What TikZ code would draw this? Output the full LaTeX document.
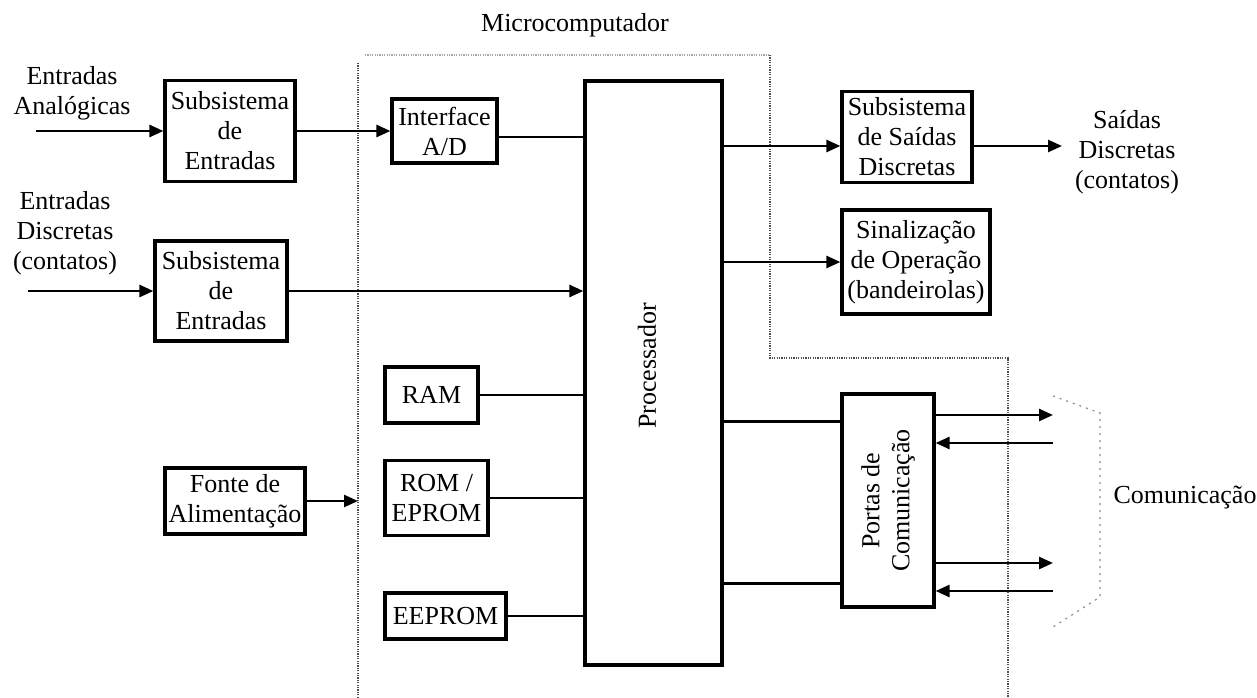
\documentclass[tikz,border=0pt]{standalone}
\usepackage{fontspec}
\setmainfont{Liberation Serif}
\usetikzlibrary{arrows.meta,calc}
\begin{document}
\begin{tikzpicture}[x=1pt,y=-1pt,
  every node/.style={font=\fontsize{26}{30}\selectfont},
  blk/.style={draw,line width=3.2pt,inner sep=0pt,align=center},
  conn/.style={line width=2.6pt},
  arr/.style={conn,-{Triangle[length=14pt,width=12pt]}},
  bound/.style={line width=1.5pt,dash pattern=on 1.2pt off 1.2pt,black!70},
  brk/.style={line width=1.2pt,dash pattern=on 2pt off 5pt,black!45},
  lbl/.style={align=center,inner sep=0pt}]
\useasboundingbox (0,0) rectangle (1257,698);

% boundary of the microcomputer
\draw[bound,black!35] (365,55) -- (770,55);
\draw[bound] (358,63) -- (358,698);
\draw[bound] (770,55) -- (770,358) -- (1008,358) -- (1008,698);

% blocks
\node[blk,minimum width=130,minimum height=101] (sub1) at (230,131) {Subsistema\\de\\Entradas};
\node[blk,minimum width=105,minimum height=64] (ad) at (444.5,131) {Interface\\A/D};
\node[blk,minimum width=137,minimum height=584] (proc) at (653.5,373) {};
\node[lbl,rotate=90] (proct) at (647,366) {Processador};
\node[blk,minimum width=132,minimum height=100] (sub2) at (221,291) {Subsistema\\de\\Entradas};
\node[blk,minimum width=130,minimum height=91] (sd) at (907,137) {Subsistema\\de Saídas\\Discretas};
\node[blk,minimum width=148,minimum height=104] (sin) at (916,262) {Sinalização\\de Operação\\(bandeirolas)};
\node[blk,minimum width=93,minimum height=56] (ram) at (431.5,395) {RAM};
\node[blk,minimum width=103,minimum height=75] (rom) at (436.5,498) {ROM /\\EPROM};
\node[blk,minimum width=121,minimum height=46] (eep) at (445.5,616) {EEPROM};
\node[blk,minimum width=140,minimum height=66] (fonte) at (235,501) {Fonte de\\Alimentação};
\node[blk,minimum width=92,minimum height=213] (portas) at (888,500.5) {};
\node[lbl,rotate=90] (portast) at (portas.center) {Portas de\\Comunicação};

% free labels
\node[lbl] (micro) at (575,25) {Microcomputador};
\node[lbl] (ea) at (72,93) {Entradas\\Analógicas};
\node[lbl] (ed) at (65,233) {Entradas\\Discretas\\(contatos)};
\node[lbl] (sdt) at (1127,152) {Saídas\\Discretas\\(contatos)};
\node[lbl] (com) at (1185,498) {Comunicação};

% free ends
\coordinate (ain) at (36,131);
\coordinate (din) at (28,291);
\coordinate (sdo) at (1062,146);
\coordinate (fin) at (358,501);
\coordinate (c1) at (1053,415);
\coordinate (c2) at (1053,443);
\coordinate (c3) at (1053,563);
\coordinate (c4) at (1053,591);

% connectors
\draw[arr] (ain) -- (sub1.west);
\draw[arr] (sub1.east) -- (ad.west);
\draw[conn] ([yshift=-6]ad.east) -- ([yshift=-6]ad.east -| proc.west);
\draw[arr] (din) -- (sub2.west);
\draw[arr] (sub2.east) -- (sub2.east -| proc.west);
\draw[arr] ([yshift=-9]sd.west -| proc.east) -- ([yshift=-9]sd.west);
\draw[arr] ([yshift=-9]sd.east) -- (sdo);
\draw[arr] (sin.west -| proc.east) -- (sin.west);
\draw[conn] (ram.east) -- (ram.east -| proc.west);
\draw[conn] (rom.east) -- (rom.east -| proc.west);
\draw[conn] (eep.east) -- (eep.east -| proc.west);
\draw[arr] (fonte.east) -- (fin);
\draw[conn,line width=3.2pt] ([yshift=-29]portas.north west -| proc.east) -- ([yshift=-29]portas.north west);
\draw[conn,line width=3.2pt] ([yshift=25]portas.south west -| proc.east) -- ([yshift=25]portas.south west);
\draw[arr] (c1 -| portas.east) -- (c1);
\draw[arr] (c2) -- (c2 -| portas.east);
\draw[arr] (c3 -| portas.east) -- (c3);
\draw[arr] (c4) -- (c4 -| portas.east);

% communication bracket
\draw[brk] (1053,396) -- (1100,413) -- (1100,597) -- (1053,627);
\end{tikzpicture}
\end{document}
